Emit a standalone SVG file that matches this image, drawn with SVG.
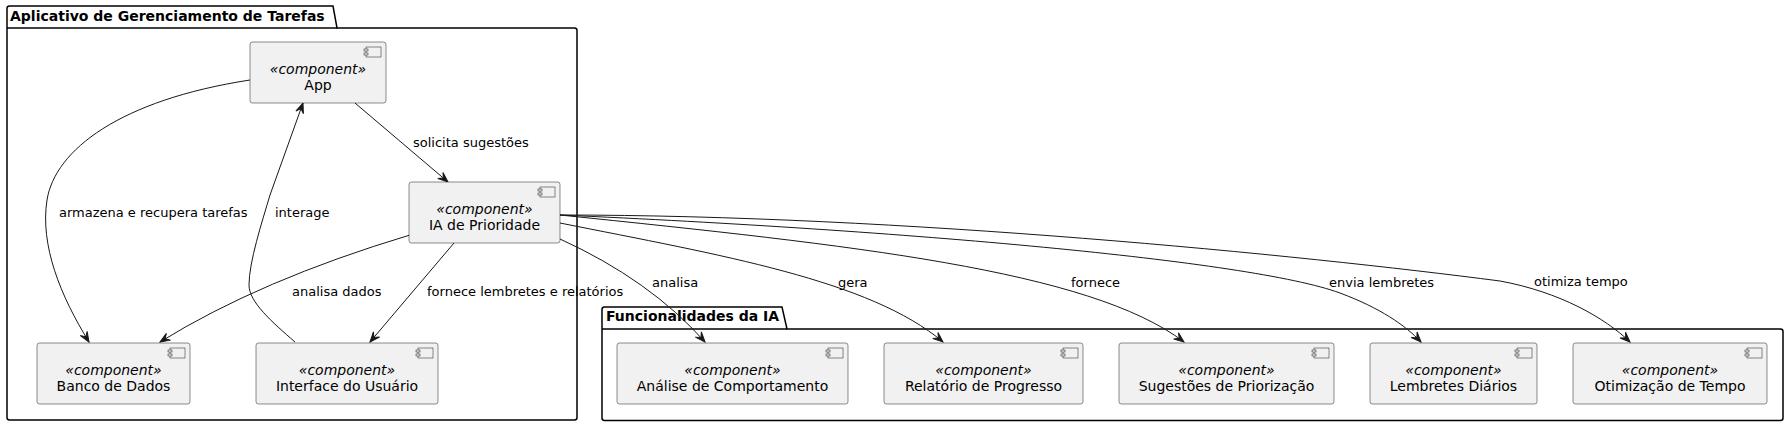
<svg xmlns="http://www.w3.org/2000/svg" width="1789" height="427" viewBox="0 0 1789 427">
<defs>
<style>
.pkg{fill:none;stroke:#000;stroke-width:1.5}
.ptitle{font-family:"DejaVu Sans",sans-serif;font-size:14px;font-weight:bold;fill:#000}
.box{fill:#F1F1F1;stroke:#181818;stroke-width:0.5}
.icon{fill:#F1F1F1;stroke:#181818;stroke-width:0.5}
.st{font-family:"DejaVu Sans",sans-serif;font-size:14px;font-style:italic;fill:#000;text-anchor:middle}
.nm{font-family:"DejaVu Sans",sans-serif;font-size:14px;fill:#000;text-anchor:middle}
.edge{fill:none;stroke:#181818;stroke-width:1;marker-end:url(#arr)}
.lbl{font-family:"DejaVu Sans",sans-serif;font-size:13px;fill:#000}
</style>
<marker id="arr" markerUnits="userSpaceOnUse" markerWidth="12" markerHeight="10" viewBox="-11 -5 12 10" refX="0" refY="0" orient="auto">
<path d="M0,0 L-10,-4 L-6,0 L-10,4 Z" fill="#181818" stroke="#181818" stroke-width="1"/>
</marker>
<g id="cicon">
<rect x="-20" y="5" width="15" height="10" class="icon"/>
<rect x="-22" y="7" width="4" height="2" class="icon"/>
<rect x="-22" y="11" width="4" height="2" class="icon"/>
</g>
</defs>
<rect width="1789" height="427" fill="#FFFFFF"/>

<g id="pkg-aplicativo">
<path class="pkg" d="M9.5,6 L333,6 L337,28 L574.5,28 Q577,28 577,30.5 L577,417.5 Q577,420 574.5,420 L9.5,420 Q7,420 7,417.5 L7,8.5 Q7,6 9.5,6 Z"/>
<path class="pkg" d="M7,28 L337,28"/>
<text class="ptitle" x="10" y="21">Aplicativo de Gerenciamento de Tarefas</text>
</g>

<g id="pkg-funcionalidades">
<path class="pkg" d="M604.5,307 L782,307 L787,329 L1780.5,329 Q1783,329 1783,331.5 L1783,418 Q1783,420.5 1780.5,420.5 L604.5,420.5 Q602,420.5 602,418 L602,309.5 Q602,307 604.5,307 Z"/>
<path class="pkg" d="M602,329 L787,329"/>
<text class="ptitle" x="606" y="321">Funcionalidades da IA</text>
</g>

<g id="connectors">
<path class="edge" d="M355,103 L448,182"/>
<text class="lbl" x="413" y="147">solicita sugestões</text>
<path class="edge" d="M250,80 C120,100 55,150 47,200 C40,245 60,295 89,342"/>
<text class="lbl" x="59" y="217">armazena e recupera tarefas</text>
<path class="edge" d="M295,342 C272,322 249,302 249,285 C249,262 262,222 270,195 L303,103"/>
<text class="lbl" x="275" y="217">interage</text>
<path class="edge" d="M410,235 Q260,280 160,342"/>
<text class="lbl" x="292" y="296">analisa dados</text>
<path class="edge" d="M454,243 L370,342"/>
<text class="lbl" x="427" y="296">fornece lembretes e relatórios</text>
<path class="edge" d="M560,239 Q650,280 705,342"/>
<text class="lbl" x="652" y="287">analisa</text>
<path class="edge" d="M560,223 C720,255 870,280 943,342"/>
<text class="lbl" x="838" y="287">gera</text>
<path class="edge" d="M560,215 C850,245 1090,270 1184,342"/>
<text class="lbl" x="1071" y="287">fornece</text>
<path class="edge" d="M560,215 C900,230 1250,260 1340,293 C1380,308 1405,325 1421,342"/>
<text class="lbl" x="1329" y="287">envia lembretes</text>
<path class="edge" d="M560,215 C900,215 1300,255 1500,281 C1560,292 1605,318 1630,342"/>
<text class="lbl" x="1534" y="286">otimiza tempo</text>
</g>

<g id="node-app">
<rect class="box" x="250" y="42" width="136" height="61" rx="2.5"/>
<use href="#cicon" x="386" y="42"/>
<text class="st" x="318" y="73.5">«component»</text>
<text class="nm" x="318" y="90">App</text>
</g>

<g id="node-ia">
<rect class="box" x="409" y="182" width="151" height="61" rx="2.5"/>
<use href="#cicon" x="560" y="182"/>
<text class="st" x="484.5" y="213.5">«component»</text>
<text class="nm" x="484.5" y="230">IA de Prioridade</text>
</g>

<g id="node-banco">
<rect class="box" x="37" y="343" width="153" height="61" rx="2.5"/>
<use href="#cicon" x="190" y="343"/>
<text class="st" x="113.5" y="374.5">«component»</text>
<text class="nm" x="113.5" y="391">Banco de Dados</text>
</g>

<g id="node-interface">
<rect class="box" x="256" y="343" width="182" height="61" rx="2.5"/>
<use href="#cicon" x="438" y="343"/>
<text class="st" x="347" y="374.5">«component»</text>
<text class="nm" x="347" y="391">Interface do Usuário</text>
</g>

<g id="node-analise">
<rect class="box" x="617" y="343" width="231" height="61" rx="2.5"/>
<use href="#cicon" x="848" y="343"/>
<text class="st" x="732.5" y="374.5">«component»</text>
<text class="nm" x="732.5" y="391">Análise de Comportamento</text>
</g>

<g id="node-relatorio">
<rect class="box" x="884" y="343" width="199" height="61" rx="2.5"/>
<use href="#cicon" x="1083" y="343"/>
<text class="st" x="983.5" y="374.5">«component»</text>
<text class="nm" x="983.5" y="391">Relatório de Progresso</text>
</g>

<g id="node-sugestoes">
<rect class="box" x="1119" y="343" width="215" height="61" rx="2.5"/>
<use href="#cicon" x="1334" y="343"/>
<text class="st" x="1226.5" y="374.5">«component»</text>
<text class="nm" x="1226.5" y="391">Sugestões de Priorização</text>
</g>

<g id="node-lembretes">
<rect class="box" x="1370" y="343" width="167" height="61" rx="2.5"/>
<use href="#cicon" x="1537" y="343"/>
<text class="st" x="1453.5" y="374.5">«component»</text>
<text class="nm" x="1453.5" y="391">Lembretes Diários</text>
</g>

<g id="node-otimizacao">
<rect class="box" x="1573" y="343" width="194" height="61" rx="2.5"/>
<use href="#cicon" x="1767" y="343"/>
<text class="st" x="1670" y="374.5">«component»</text>
<text class="nm" x="1670" y="391">Otimização de Tempo</text>
</g>
</svg>
